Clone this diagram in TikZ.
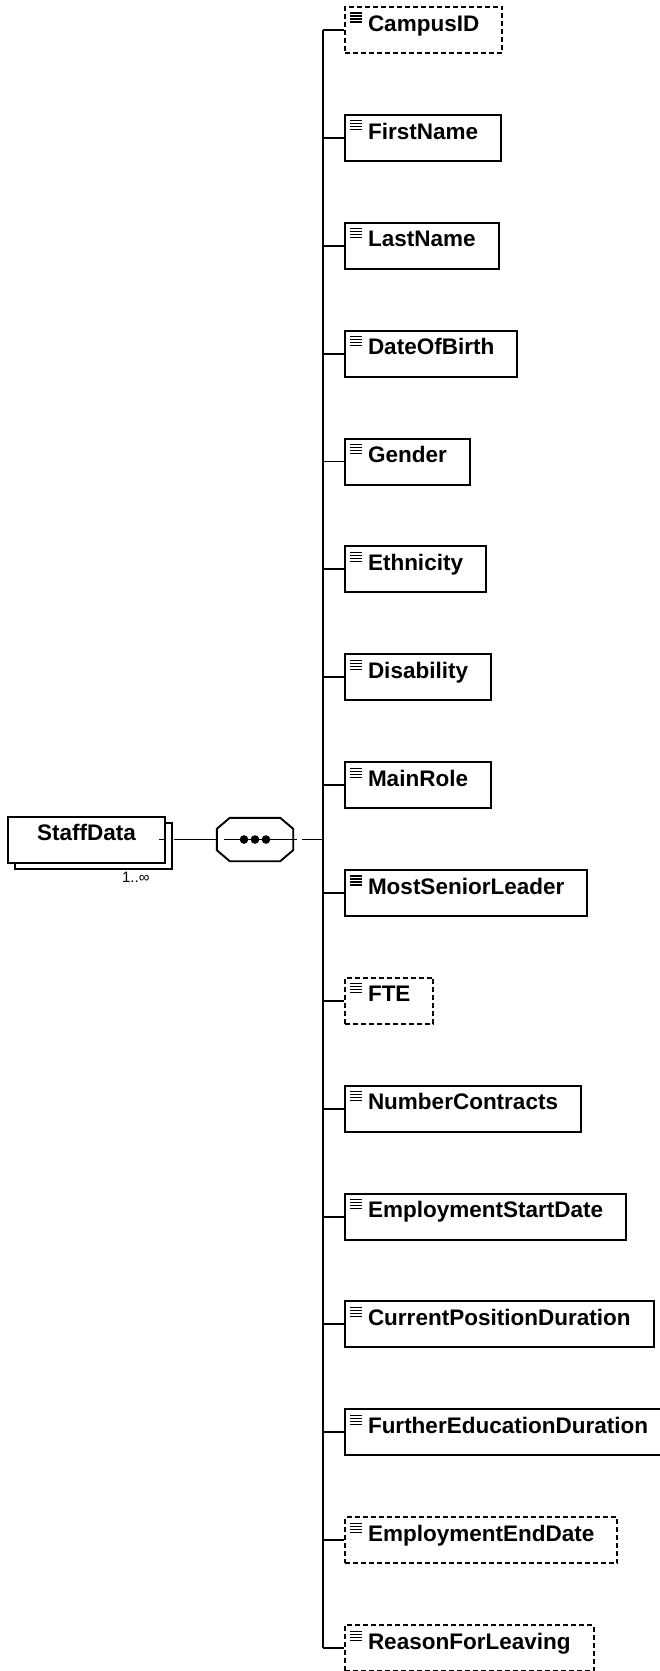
\documentclass[tikz,border=0pt]{standalone}
\usepackage{fontspec}
\setmainfont{Liberation Sans}
\usetikzlibrary{shadows}

\tikzset{
	elem/.style={draw, line width=2pt, fill=white, anchor=west, inner xsep=23pt, inner ysep=8pt,
		text height=16.1pt, text depth=13.9pt, font=\fontsize{22.5}{27}\selectfont\bfseries,
		path picture={
			\draw[solid, line width=1.1pt] ([xshift=5pt,yshift=-6pt]path picture bounding box.north west) -- ++(12pt,0pt);
			\draw[solid, line width=1.1pt] ([xshift=5pt,yshift=-9pt]path picture bounding box.north west) -- ++(12pt,0pt);
			\draw[solid, line width=1.1pt] ([xshift=5pt,yshift=-12pt]path picture bounding box.north west) -- ++(12pt,0pt);
			\draw[solid, line width=1.1pt] ([xshift=5pt,yshift=-15pt]path picture bounding box.north west) -- ++(12pt,0pt);
		}},
	optelem/.style={elem, dash pattern=on 5pt off 3pt},
	rootelem/.style={draw, line width=2pt, fill=white, inner xsep=29pt, inner ysep=8pt,
		text height=16.1pt, text depth=13.9pt, font=\fontsize{22.5}{27}\selectfont\bfseries,
		copy shadow={shadow xshift=7pt, shadow yshift=-6pt}},
	conn/.style={line width=1.9pt},
}

\begin{document}
\begin{tikzpicture}[x=1pt, y=-1pt]
	\useasboundingbox (0,0) rectangle (660,1671);
	\clip (0,0) rectangle (660,1671);

	\node[rootelem] (staff) at (86.5,839.5) {StaffData};
	\node[anchor=base east, font=\fontsize{15}{18}\selectfont] (mult) at (153,882) {1..∞};

	% sequence compositor
	\node[minimum width=76pt, minimum height=43pt, inner sep=0pt] (seq) at (255,839.5) {};
	\draw[conn] ([xshift=13pt]seq.north west) -- ([xshift=-13pt]seq.north east) -- ([yshift=-11pt]seq.north east)
		-- ([yshift=11pt]seq.south east) -- ([xshift=-13pt]seq.south east) -- ([xshift=13pt]seq.south west)
		-- ([yshift=11pt]seq.south west) -- ([yshift=-11pt]seq.north west) -- cycle;
	\draw[conn] ([xshift=7pt]seq.west) -- ([xshift=4pt]seq.east);
	\fill ([xshift=-11pt]seq.center) circle (4.3pt);
	\fill (seq.center) circle (4.3pt);
	\fill ([xshift=11pt]seq.center) circle (4.3pt);
	\coordinate (bus) at (323,839.5);

	\node[optelem] (campus) at (344,30) {CampusID};
	\node[elem] (first) at (344,137.9) {FirstName};
	\node[elem] (last) at (344,245.7) {LastName};
	\node[elem] (dob) at (344,353.6) {DateOfBirth};
	\node[elem] (gender) at (344,461.5) {Gender};
	\node[elem] (ethnicity) at (344,569.4) {Ethnicity};
	\node[elem] (disability) at (344,677.2) {Disability};
	\node[elem] (mainrole) at (344,785.1) {MainRole};
	\node[elem] (senior) at (344,893) {MostSeniorLeader};
	\node[optelem] (fte) at (344,1000.8) {FTE};
	\node[elem] (contracts) at (344,1108.7) {NumberContracts};
	\node[elem] (startdate) at (344,1216.6) {EmploymentStartDate};
	\node[elem] (posdur) at (344,1324.4) {CurrentPositionDuration};
	\node[elem] (fedur) at (344,1432.3) {FurtherEducationDuration};
	\node[optelem] (enddate) at (344,1540.2) {EmploymentEndDate};
	\node[optelem] (leaving) at (344,1648.1) {ReasonForLeaving};

	\draw[conn] ([xshift=-7pt]staff.east) -- (staff.east);
	\draw[conn] ([xshift=8pt]staff.east) -- (seq.west);
	\draw[conn] ([xshift=9pt]seq.east) -- (bus);
	\draw[conn] (bus |- campus.west) -- (bus |- leaving.west);

	\draw[conn] (bus |- campus.west) -- (campus.west);
	\draw[conn] (bus |- first.west) -- (first.west);
	\draw[conn] (bus |- last.west) -- (last.west);
	\draw[conn] (bus |- dob.west) -- (dob.west);
	\draw[conn] (bus |- gender.west) -- (gender.west);
	\draw[conn] (bus |- ethnicity.west) -- (ethnicity.west);
	\draw[conn] (bus |- disability.west) -- (disability.west);
	\draw[conn] (bus |- mainrole.west) -- (mainrole.west);
	\draw[conn] (bus |- senior.west) -- (senior.west);
	\draw[conn] (bus |- fte.west) -- (fte.west);
	\draw[conn] (bus |- contracts.west) -- (contracts.west);
	\draw[conn] (bus |- startdate.west) -- (startdate.west);
	\draw[conn] (bus |- posdur.west) -- (posdur.west);
	\draw[conn] (bus |- fedur.west) -- (fedur.west);
	\draw[conn] (bus |- enddate.west) -- (enddate.west);
	\draw[conn] (bus |- leaving.west) -- (leaving.west);
\end{tikzpicture}
\end{document}
